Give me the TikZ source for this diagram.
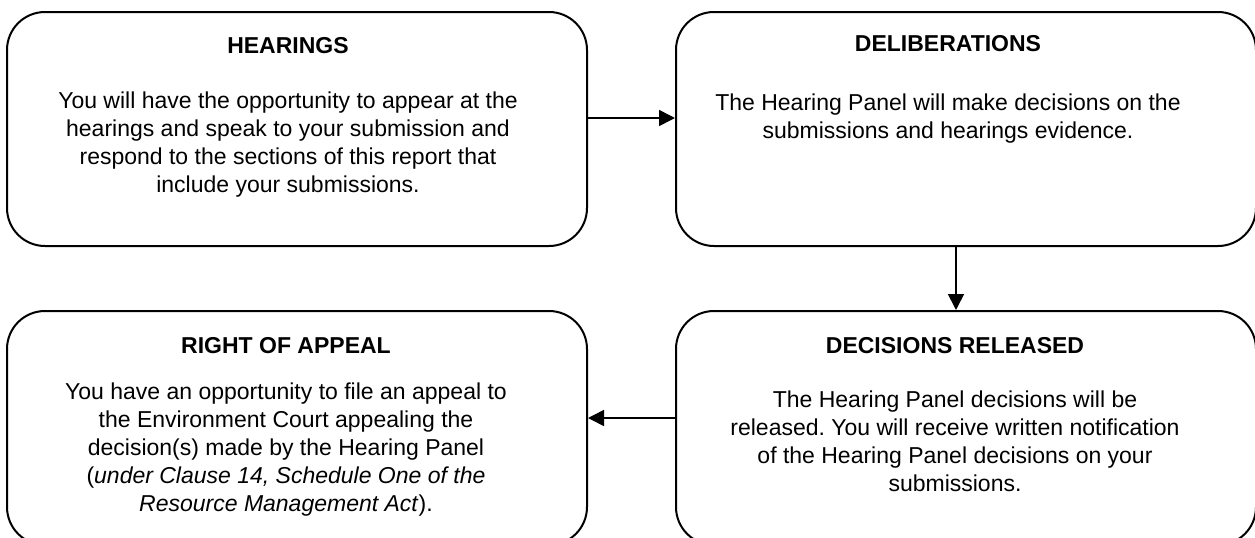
\documentclass[tikz,border=0pt]{standalone}
\usepackage{fontspec}
\setmainfont{Liberation Sans}
\usetikzlibrary{positioning,arrows.meta}
\frenchspacing

\tikzset{every node/.style={font=\fontsize{11.5}{14}\selectfont}}
\tikzstyle{stage}=[draw,line width=1pt,rounded corners=19pt,minimum width=290pt,minimum height=117pt,inner sep=0pt]
\tikzstyle{heading}=[font=\fontsize{11.5}{14}\selectfont\bfseries,inner sep=0pt]
\tikzstyle{blurb}=[align=center,anchor=north,inner sep=0pt]
\tikzstyle{flow}=[line width=0.8pt,-{Triangle[length=8pt,width=8pt]}]

\begin{document}
\begin{tikzpicture}
            \useasboundingbox (0,0) rectangle (627.5pt,-268.5pt);

            \node [stage] (hear) at (148.5pt,-64.5pt) {};
            \node [stage,right=43.5pt of hear] (delib) {};
            \node [stage,below=31.5pt of delib] (rel) {};
            \node [stage,below=31.5pt of hear] (appeal) {};

            \node [heading] (hear-title) at ([xshift=-4.5pt,yshift=-17.5pt]hear.north) {HEARINGS};
            \node [blurb] (hear-text) at ([xshift=-4.5pt,yshift=-40pt]hear.north)
                {You will have the opportunity to appear at the\\
                 hearings and speak to your submission and\\
                 respond to the sections of this report that\\
                 include your submissions.};

            \node [heading] (delib-title) at ([xshift=-9pt,yshift=-16.5pt]delib.north) {DELIBERATIONS};
            \node [blurb] (delib-text) at ([xshift=-9pt,yshift=-41pt]delib.north)
                {The Hearing Panel will make decisions on the\\
                 submissions and hearings evidence.};

            \node [heading] (rel-title) at ([xshift=-5.5pt,yshift=-18pt]rel.north) {DECISIONS RELEASED};
            \node [blurb] (rel-text) at ([xshift=-5.5pt,yshift=-40pt]rel.north)
                {The Hearing Panel decisions will be\\
                 released. You will receive written notification\\
                 of the Hearing Panel decisions on your\\
                 submissions.};

            \node [heading] (appeal-title) at ([xshift=-5.5pt,yshift=-18pt]appeal.north) {RIGHT OF APPEAL};
            \node [blurb] (appeal-text) at ([xshift=-5.5pt,yshift=-36pt]appeal.north)
                {You have an opportunity to file an appeal to\\
                 the Environment Court appealing the\\
                 decision(s) made by the Hearing Panel\\
                 (\textit{under Clause 14, Schedule One of the}\\
                 \textit{Resource Management Act}).};

            \draw [flow] ([yshift=5.5pt]hear.east) -- ([yshift=5.5pt]delib.west);
            \draw [flow] ([xshift=-5pt]delib.south) -- ([xshift=-5pt]rel.north);
            \draw [flow] ([yshift=5pt]rel.west) -- ([yshift=5pt]appeal.east);
        \end{tikzpicture}
\end{document}
